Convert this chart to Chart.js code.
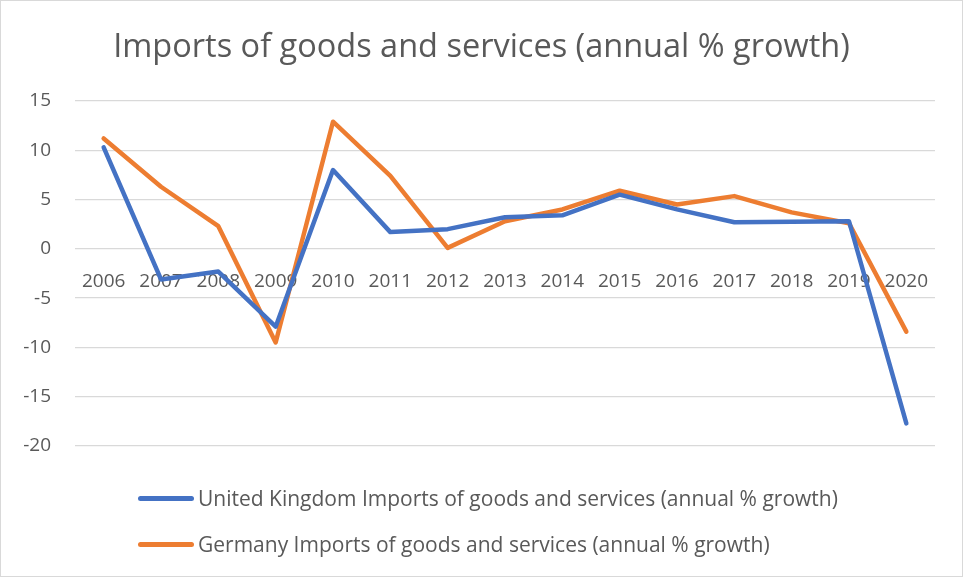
<!DOCTYPE html>
<html>
<head>
<meta charset="utf-8">
<title>Imports of goods and services</title>
<script src="https://cdn.jsdelivr.net/npm/chart.js@4.4.1/dist/chart.umd.min.js"></script>
<style>
  html, body { margin: 0; padding: 0; background: #fff; }
  #wrap { position: relative; width: 963px; height: 577px; }
  #frame { position: absolute; left: 0; top: 0; width: 961px; height: 575px; border: 1px solid #d9d9d9; pointer-events: none; }
  #legend { position: absolute; left: 138px; top: 475px; font-family: 'Open Sans', sans-serif; font-size: 21px; color: #595959; }
  .item { display: flex; align-items: center; height: 46px; white-space: nowrap; }
  .swatch { width: 56px; height: 5px; border-radius: 3px; margin-right: 4px; }
</style>
</head>
<body>
<div id="wrap">
  <canvas id="chart" width="963" height="577"></canvas>
  <div id="legend"></div>
  <div id="frame"></div>
</div>
<script>
const years = ['2006', '2007', '2008', '2009', '2010', '2011', '2012', '2013', '2014', '2015', '2016', '2017', '2018', '2019', '2020'];
const ukImports = [10.3, -3.1, -2.3, -7.9, 8.0, 1.7, 2.0, 3.2, 3.4, 5.5, 4.0, 2.7, 2.75, 2.8, -17.7];
const deImports = [11.2, 6.3, 2.3, -9.5, 12.9, 7.4, 0.1, 2.8, 4.0, 5.9, 4.5, 5.35, 3.7, 2.6, -8.4];

const textColor = '#595959';
const font = 'Open Sans';

const chart = new Chart(document.getElementById('chart'), {
  type: 'line',
  data: {
    labels: years,
    datasets: [{
      label: 'United Kingdom Imports of goods and services (annual % growth)',
      data: ukImports,
      borderColor: '#4472c4',
      backgroundColor: '#4472c4',
      borderWidth: 4.5,
      pointRadius: 0,
      borderJoinStyle: 'round',
      borderCapStyle: 'round'
    }, {
      label: 'Germany Imports of goods and services (annual % growth)',
      data: deImports,
      borderColor: '#ed7d31',
      backgroundColor: '#ed7d31',
      borderWidth: 4.5,
      pointRadius: 0,
      borderJoinStyle: 'round',
      borderCapStyle: 'round'
    }]
  },
  options: {
    responsive: false,
    animation: false,
    layout: { padding: { left: 0, right: 0, top: 0, bottom: 131 } },
    scales: {
      x: {
        position: { y: 0 },
        offset: true,
        grid: { display: false },
        border: { display: false },
        ticks: { color: textColor, font: { family: font, size: 19 }, padding: 13, maxRotation: 0, autoSkip: false }
      },
      y: {
        min: -20,
        max: 15,
        afterFit: scale => { scale.width = 75; },
        border: { display: false },
        grid: { color: '#d9d9d9', lineWidth: 1.3, drawTicks: false },
        ticks: { stepSize: 5, color: textColor, font: { family: font, size: 19 }, padding: 24 }
      },
      // empty right margin, keeps the title centred on the whole canvas
      gap: {
        position: 'right',
        grid: { display: false },
        border: { display: false },
        ticks: { display: false },
        afterFit: scale => { scale.width = 28; }
      }
    },
    plugins: {
      legend: { display: false },
      tooltip: { enabled: false },
      title: {
        display: true,
        text: 'Imports of goods and services (annual % growth)',
        color: textColor,
        font: { family: font, size: 32.5, weight: 'normal' },
        padding: { top: 28, bottom: 34 }
      }
    }
  }
});

// legend rows built from the datasets
const legendEl = document.getElementById('legend');
chart.data.datasets.forEach(ds => {
  const row = document.createElement('div');
  row.className = 'item';
  const sw = document.createElement('span');
  sw.className = 'swatch';
  sw.style.background = ds.borderColor;
  const txt = document.createElement('span');
  txt.textContent = ds.label;
  row.appendChild(sw);
  row.appendChild(txt);
  legendEl.appendChild(row);
});
</script>
</body>
</html>
